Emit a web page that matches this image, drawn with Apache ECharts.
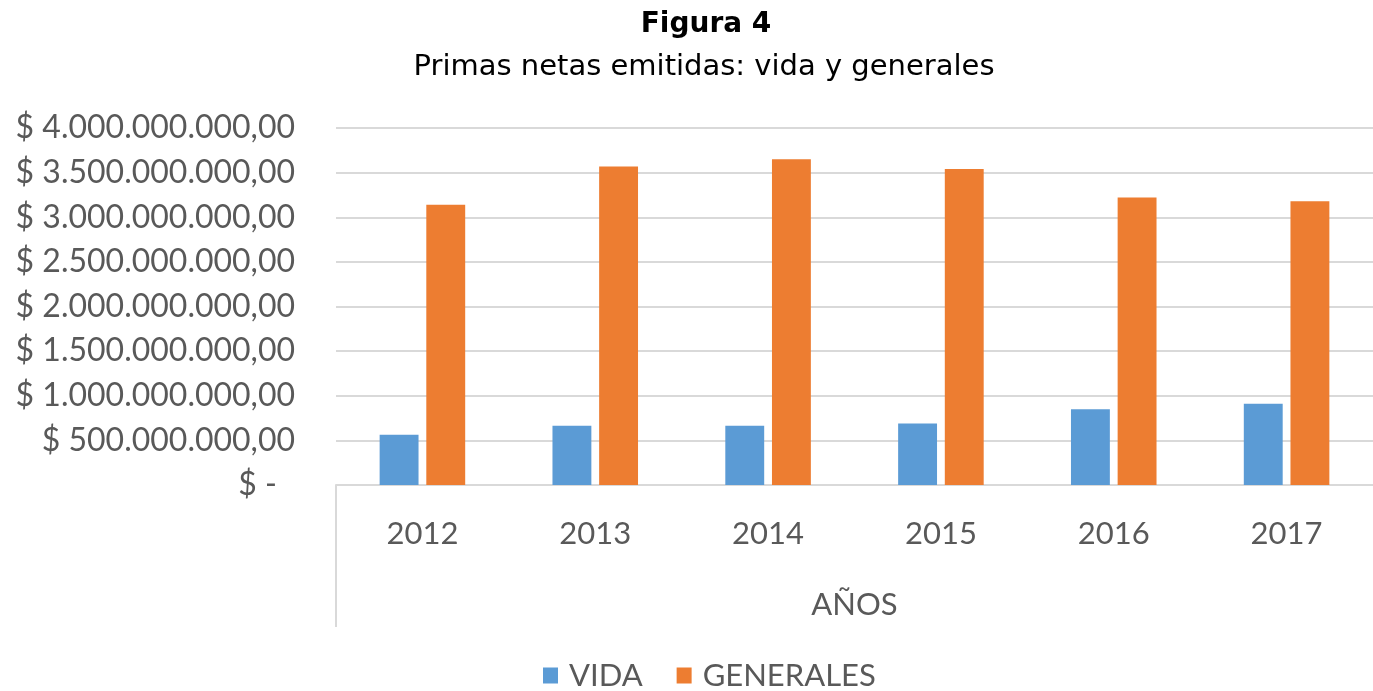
<!DOCTYPE html>
<html>
<head>
<meta charset="utf-8">
<script src="https://cdn.jsdelivr.net/npm/echarts@6/dist/echarts.min.js"></script>
<style>
  html, body { margin: 0; padding: 0; background: #fff; }
  #chart { width: 1373px; height: 691px; }
</style>
</head>
<body>
<div id="chart"></div>
<script>
// datos
const years = ['2012', '2013', '2014', '2015', '2016', '2017']
const vida = [564e6, 665e6, 665e6, 690e6, 850e6, 910e6]
const generales = [3140e6, 3570e6, 3650e6, 3540e6, 3220e6, 3180e6]

const gridLeft = 336
const gridTop = 128
const gridBottom = 206

// formato tipo Excel contable: $ 1.500.000.000,00
function fmtMoney(v) {
  if (v === 0) return '{z|$ -}'
  const s = Math.round(v).toString().replace(/\B(?=(\d{3})+(?!\d))/g, '.')
  return '$ ' + s + ',00'
}

let myChart = echarts.init(document.getElementById('chart'))

const option = {
  animation: false,
  title: [
    {
      text: 'Figura 4',
      left: 701,
      textAlign: 'center',
      top: 6,
      textStyle: { fontFamily: 'DejaVu Sans', fontWeight: 'bold', fontSize: 28, color: '#000' }
    },
    {
      text: 'Primas netas emitidas: vida y generales',
      left: 699,
      textAlign: 'center',
      top: 48,
      textStyle: { fontFamily: 'DejaVu Sans', fontWeight: 'normal', fontSize: 29, color: '#000' }
    }
  ],
  legend: {
    top: 660,
    left: 543,
    padding: 0,
    itemWidth: 15,
    itemHeight: 16,
    itemGap: 34,
    icon: 'rect',
    textStyle: { fontFamily: 'Lato', fontSize: 31, color: '#595959', padding: [0, 0, 0, 6] },
    data: ['VIDA', 'GENERALES']
  },
  grid: { left: gridLeft, right: 0, top: gridTop, bottom: gridBottom, containLabel: false },
  xAxis: {
    type: 'category',
    data: years,
    name: 'AÑOS',
    nameLocation: 'middle',
    nameGap: 104,
    nameTextStyle: { fontFamily: 'Lato', fontSize: 31, color: '#595959' },
    axisLine: { lineStyle: { color: '#d9d9d9', width: 2 } },
    axisTick: { show: false },
    axisLabel: { margin: 33, fontFamily: 'Lato', fontSize: 31, color: '#595959' }
  },
  yAxis: {
    type: 'value',
    min: 0,
    max: 4000000000,
    interval: 500000000,
    axisLine: { show: false },
    axisTick: { show: false },
    splitLine: { lineStyle: { color: '#d9d9d9', width: 2 } },
    axisLabel: {
      margin: 41,
      fontFamily: 'Lato',
      fontSize: 32,
      color: '#595959',
      formatter: fmtMoney,
      rich: { z: { fontFamily: 'Lato', fontSize: 32, color: '#595959', padding: [0, 18, 0, 0] } }
    }
  },
  series: [
    {
      name: 'VIDA',
      type: 'bar',
      data: vida,
      barWidth: '22.5%',
      barGap: '20%',
      itemStyle: { color: '#5B9BD5' }
    },
    {
      name: 'GENERALES',
      type: 'bar',
      data: generales,
      barWidth: '22.5%',
      itemStyle: { color: '#ED7D31' }
    }
  ],
  graphic: [
    {
      type: 'line',
      shape: { x1: gridLeft, y1: 691 - gridBottom, x2: gridLeft, y2: 627 },
      style: { stroke: '#d9d9d9', lineWidth: 2 }
    }
  ]
}

myChart.setOption(option)
window.onresize = function() {
  myChart.resize()
}
</script>
</body>
</html>
